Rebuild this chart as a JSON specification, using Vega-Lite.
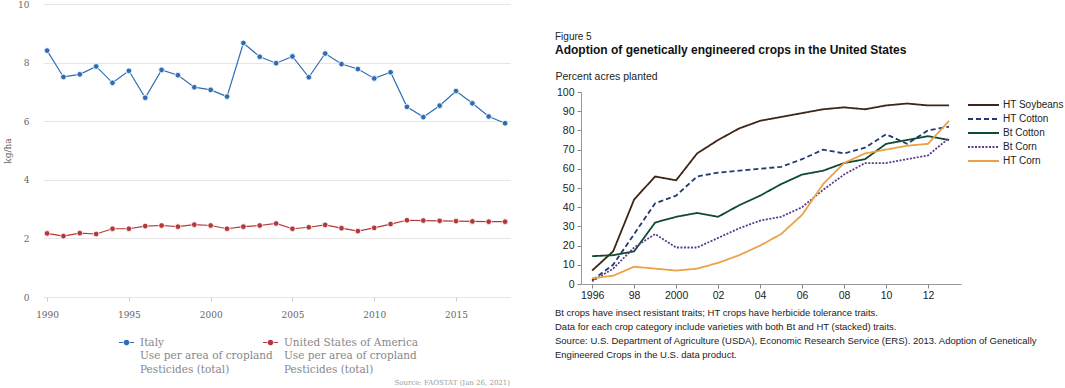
{
  "$schema": "https://vega.github.io/schema/vega-lite/v6.json",
  "padding": {"left": 3, "top": 0, "right": 0, "bottom": 0},
  "config": {"view": {"stroke": null}},
  "spacing": 45,
  "resolve": {"scale": {"color": "independent", "strokeDash": "independent"}, "legend": {"color": "independent", "strokeDash": "independent"}},
  "datasets": {
    "pest": [
      {"year": 1990, "country": "Italy", "value": 8.41},
      {"year": 1991, "country": "Italy", "value": 7.51},
      {"year": 1992, "country": "Italy", "value": 7.60},
      {"year": 1993, "country": "Italy", "value": 7.87},
      {"year": 1994, "country": "Italy", "value": 7.31},
      {"year": 1995, "country": "Italy", "value": 7.72},
      {"year": 1996, "country": "Italy", "value": 6.80},
      {"year": 1997, "country": "Italy", "value": 7.75},
      {"year": 1998, "country": "Italy", "value": 7.57},
      {"year": 1999, "country": "Italy", "value": 7.16},
      {"year": 2000, "country": "Italy", "value": 7.07},
      {"year": 2001, "country": "Italy", "value": 6.84},
      {"year": 2002, "country": "Italy", "value": 8.67},
      {"year": 2003, "country": "Italy", "value": 8.20},
      {"year": 2004, "country": "Italy", "value": 7.98},
      {"year": 2005, "country": "Italy", "value": 8.21},
      {"year": 2006, "country": "Italy", "value": 7.50},
      {"year": 2007, "country": "Italy", "value": 8.31},
      {"year": 2008, "country": "Italy", "value": 7.95},
      {"year": 2009, "country": "Italy", "value": 7.78},
      {"year": 2010, "country": "Italy", "value": 7.46},
      {"year": 2011, "country": "Italy", "value": 7.67},
      {"year": 2012, "country": "Italy", "value": 6.49},
      {"year": 2013, "country": "Italy", "value": 6.14},
      {"year": 2014, "country": "Italy", "value": 6.53},
      {"year": 2015, "country": "Italy", "value": 7.03},
      {"year": 2016, "country": "Italy", "value": 6.61},
      {"year": 2017, "country": "Italy", "value": 6.16},
      {"year": 2018, "country": "Italy", "value": 5.93},
      {"year": 1990, "country": "United States of America", "value": 2.17},
      {"year": 1991, "country": "United States of America", "value": 2.08},
      {"year": 1992, "country": "United States of America", "value": 2.18},
      {"year": 1993, "country": "United States of America", "value": 2.15},
      {"year": 1994, "country": "United States of America", "value": 2.33},
      {"year": 1995, "country": "United States of America", "value": 2.33},
      {"year": 1996, "country": "United States of America", "value": 2.42},
      {"year": 1997, "country": "United States of America", "value": 2.44},
      {"year": 1998, "country": "United States of America", "value": 2.40},
      {"year": 1999, "country": "United States of America", "value": 2.47},
      {"year": 2000, "country": "United States of America", "value": 2.44},
      {"year": 2001, "country": "United States of America", "value": 2.33},
      {"year": 2002, "country": "United States of America", "value": 2.40},
      {"year": 2003, "country": "United States of America", "value": 2.44},
      {"year": 2004, "country": "United States of America", "value": 2.51},
      {"year": 2005, "country": "United States of America", "value": 2.33},
      {"year": 2006, "country": "United States of America", "value": 2.38},
      {"year": 2007, "country": "United States of America", "value": 2.46},
      {"year": 2008, "country": "United States of America", "value": 2.35},
      {"year": 2009, "country": "United States of America", "value": 2.25},
      {"year": 2010, "country": "United States of America", "value": 2.36},
      {"year": 2011, "country": "United States of America", "value": 2.49},
      {"year": 2012, "country": "United States of America", "value": 2.62},
      {"year": 2013, "country": "United States of America", "value": 2.61},
      {"year": 2014, "country": "United States of America", "value": 2.60},
      {"year": 2015, "country": "United States of America", "value": 2.59},
      {"year": 2016, "country": "United States of America", "value": 2.58},
      {"year": 2017, "country": "United States of America", "value": 2.57},
      {"year": 2018, "country": "United States of America", "value": 2.57}
    ],
    "ge": [
      {"year": 1996, "crop": "HT Soybeans", "pct": 7},
      {"year": 1997, "crop": "HT Soybeans", "pct": 17},
      {"year": 1998, "crop": "HT Soybeans", "pct": 44},
      {"year": 1999, "crop": "HT Soybeans", "pct": 56},
      {"year": 2000, "crop": "HT Soybeans", "pct": 54},
      {"year": 2001, "crop": "HT Soybeans", "pct": 68},
      {"year": 2002, "crop": "HT Soybeans", "pct": 75},
      {"year": 2003, "crop": "HT Soybeans", "pct": 81},
      {"year": 2004, "crop": "HT Soybeans", "pct": 85},
      {"year": 2005, "crop": "HT Soybeans", "pct": 87},
      {"year": 2006, "crop": "HT Soybeans", "pct": 89},
      {"year": 2007, "crop": "HT Soybeans", "pct": 91},
      {"year": 2008, "crop": "HT Soybeans", "pct": 92},
      {"year": 2009, "crop": "HT Soybeans", "pct": 91},
      {"year": 2010, "crop": "HT Soybeans", "pct": 93},
      {"year": 2011, "crop": "HT Soybeans", "pct": 94},
      {"year": 2012, "crop": "HT Soybeans", "pct": 93},
      {"year": 2013, "crop": "HT Soybeans", "pct": 93},
      {"year": 1996, "crop": "HT Cotton", "pct": 2},
      {"year": 1997, "crop": "HT Cotton", "pct": 10},
      {"year": 1998, "crop": "HT Cotton", "pct": 26},
      {"year": 1999, "crop": "HT Cotton", "pct": 42},
      {"year": 2000, "crop": "HT Cotton", "pct": 46},
      {"year": 2001, "crop": "HT Cotton", "pct": 56},
      {"year": 2002, "crop": "HT Cotton", "pct": 58},
      {"year": 2003, "crop": "HT Cotton", "pct": 59},
      {"year": 2004, "crop": "HT Cotton", "pct": 60},
      {"year": 2005, "crop": "HT Cotton", "pct": 61},
      {"year": 2006, "crop": "HT Cotton", "pct": 65},
      {"year": 2007, "crop": "HT Cotton", "pct": 70},
      {"year": 2008, "crop": "HT Cotton", "pct": 68},
      {"year": 2009, "crop": "HT Cotton", "pct": 71},
      {"year": 2010, "crop": "HT Cotton", "pct": 78},
      {"year": 2011, "crop": "HT Cotton", "pct": 73},
      {"year": 2012, "crop": "HT Cotton", "pct": 80},
      {"year": 2013, "crop": "HT Cotton", "pct": 82},
      {"year": 1996, "crop": "Bt Cotton", "pct": 14.5},
      {"year": 1997, "crop": "Bt Cotton", "pct": 15},
      {"year": 1998, "crop": "Bt Cotton", "pct": 17},
      {"year": 1999, "crop": "Bt Cotton", "pct": 32},
      {"year": 2000, "crop": "Bt Cotton", "pct": 35},
      {"year": 2001, "crop": "Bt Cotton", "pct": 37},
      {"year": 2002, "crop": "Bt Cotton", "pct": 35},
      {"year": 2003, "crop": "Bt Cotton", "pct": 41},
      {"year": 2004, "crop": "Bt Cotton", "pct": 46},
      {"year": 2005, "crop": "Bt Cotton", "pct": 52},
      {"year": 2006, "crop": "Bt Cotton", "pct": 57},
      {"year": 2007, "crop": "Bt Cotton", "pct": 59},
      {"year": 2008, "crop": "Bt Cotton", "pct": 63},
      {"year": 2009, "crop": "Bt Cotton", "pct": 65},
      {"year": 2010, "crop": "Bt Cotton", "pct": 73},
      {"year": 2011, "crop": "Bt Cotton", "pct": 75},
      {"year": 2012, "crop": "Bt Cotton", "pct": 77},
      {"year": 2013, "crop": "Bt Cotton", "pct": 75},
      {"year": 1996, "crop": "Bt Corn", "pct": 1.4},
      {"year": 1997, "crop": "Bt Corn", "pct": 8},
      {"year": 1998, "crop": "Bt Corn", "pct": 19},
      {"year": 1999, "crop": "Bt Corn", "pct": 26},
      {"year": 2000, "crop": "Bt Corn", "pct": 19},
      {"year": 2001, "crop": "Bt Corn", "pct": 19},
      {"year": 2002, "crop": "Bt Corn", "pct": 24},
      {"year": 2003, "crop": "Bt Corn", "pct": 29},
      {"year": 2004, "crop": "Bt Corn", "pct": 33},
      {"year": 2005, "crop": "Bt Corn", "pct": 35},
      {"year": 2006, "crop": "Bt Corn", "pct": 40},
      {"year": 2007, "crop": "Bt Corn", "pct": 49},
      {"year": 2008, "crop": "Bt Corn", "pct": 57},
      {"year": 2009, "crop": "Bt Corn", "pct": 63},
      {"year": 2010, "crop": "Bt Corn", "pct": 63},
      {"year": 2011, "crop": "Bt Corn", "pct": 65},
      {"year": 2012, "crop": "Bt Corn", "pct": 67},
      {"year": 2013, "crop": "Bt Corn", "pct": 76},
      {"year": 1996, "crop": "HT Corn", "pct": 3},
      {"year": 1997, "crop": "HT Corn", "pct": 4.3},
      {"year": 1998, "crop": "HT Corn", "pct": 9},
      {"year": 1999, "crop": "HT Corn", "pct": 8},
      {"year": 2000, "crop": "HT Corn", "pct": 7},
      {"year": 2001, "crop": "HT Corn", "pct": 8},
      {"year": 2002, "crop": "HT Corn", "pct": 11},
      {"year": 2003, "crop": "HT Corn", "pct": 15},
      {"year": 2004, "crop": "HT Corn", "pct": 20},
      {"year": 2005, "crop": "HT Corn", "pct": 26},
      {"year": 2006, "crop": "HT Corn", "pct": 36},
      {"year": 2007, "crop": "HT Corn", "pct": 52},
      {"year": 2008, "crop": "HT Corn", "pct": 63},
      {"year": 2009, "crop": "HT Corn", "pct": 68},
      {"year": 2010, "crop": "HT Corn", "pct": 70},
      {"year": 2011, "crop": "HT Corn", "pct": 72},
      {"year": 2012, "crop": "HT Corn", "pct": 73},
      {"year": 2013, "crop": "HT Corn", "pct": 85}
    ]
  },
  "hconcat": [
    {
      "width": 467,
      "height": 293,
      "data": {"name": "pest"},
      "title": {"text": "Source: FAOSTAT (Jan 26, 2021)", "orient": "bottom", "anchor": "end", "font": "DejaVu Serif", "fontSize": 7, "fontWeight": "normal", "color": "#999999", "offset": 4},
      "encoding": {
        "x": {
          "field": "year", "type": "quantitative",
          "scale": {"domain": [1989.75, 2018.3], "nice": false, "zero": false},
          "axis": {"values": [1990, 1995, 2000, 2005, 2010, 2015], "format": "d", "grid": false, "domain": false, "ticks": true, "tickColor": "#cccccc", "tickSize": 4, "labelPadding": 9, "labelFont": "DejaVu Serif", "labelFontSize": 9, "labelColor": "#666666", "title": null}
        },
        "y": {
          "field": "value", "type": "quantitative", "title": "kg/ha",
          "scale": {"domain": [0, 10], "nice": false},
          "axis": {"values": [0, 2, 4, 6, 8, 10], "grid": true, "gridColor": "#e6e6e6", "domain": false, "ticks": false, "labelPadding": 14, "labelFont": "DejaVu Serif", "labelFontSize": 9, "labelColor": "#666666", "titleFont": "DejaVu Serif", "titleFontSize": 9, "titleFontWeight": "normal", "titleColor": "#666666", "titlePadding": 5}
        }
      },
      "resolve": {"scale": {"color": "independent"}, "legend": {"color": "independent"}},
      "layer": [
        {
          "transform": [{"filter": "datum.country == 'Italy'"}],
          "mark": {"type": "line", "strokeWidth": 1.2, "point": {"filled": true, "size": 32, "stroke": "white", "strokeWidth": 0.8}},
          "encoding": {
            "color": {
              "field": "country", "type": "nominal",
              "scale": {"domain": ["Italy"], "range": ["#2e6db4"]},
              "legend": {
                "title": null, "orient": "none", "legendX": 75, "legendY": 330,
                "symbolType": "M-1,0L-0.45,0M0.45,0L1,0M0.3,0A0.3,0.3,0,1,1,-0.3,0A0.3,0.3,0,1,1,0.3,0Z",
                "symbolSize": 225, "symbolStrokeWidth": 1.2,
                "labelFont": "DejaVu Serif", "labelFontSize": 10.5, "labelColor": "#888888", "labelLimit": 0, "labelOffset": 5,
                "labelExpr": "[datum.label, 'Use per area of cropland', 'Pesticides (total)']",
                "encode": {"labels": {"update": {"lineHeight": {"value": 13.5}}}}
              }
            }
          }
        },
        {
          "transform": [{"filter": "datum.country == 'United States of America'"}],
          "mark": {"type": "line", "strokeWidth": 1.2, "point": {"filled": true, "size": 32, "stroke": "white", "strokeWidth": 0.8}},
          "encoding": {
            "color": {
              "field": "country", "type": "nominal",
              "scale": {"domain": ["United States of America"], "range": ["#b3373b"]},
              "legend": {
                "title": null, "orient": "none", "legendX": 219, "legendY": 330,
                "symbolType": "M-1,0L-0.45,0M0.45,0L1,0M0.3,0A0.3,0.3,0,1,1,-0.3,0A0.3,0.3,0,1,1,0.3,0Z",
                "symbolSize": 225, "symbolStrokeWidth": 1.2,
                "labelFont": "DejaVu Serif", "labelFontSize": 10.5, "labelColor": "#888888", "labelLimit": 0, "labelOffset": 5,
                "labelExpr": "[datum.label, 'Use per area of cropland', 'Pesticides (total)']",
                "encode": {"labels": {"update": {"lineHeight": {"value": 13.5}}}}
              }
            }
          }
        }
      ]
    },
    {
      "spacing": 0,
      "bounds": "flush",
      "title": {
        "text": ["Bt crops have insect resistant traits; HT crops have herbicide tolerance traits.", "Data for each crop category include varieties with both Bt and HT (stacked) traits."],
        "subtitle": ["Source: U.S. Department of Agriculture (USDA), Economic Research Service (ERS). 2013. Adoption of Genetically", "Engineered Crops in the U.S. data product."],
        "orient": "bottom", "anchor": "start", "frame": "bounds",
        "font": "Liberation Sans", "fontSize": 9.5, "fontWeight": "normal", "color": "#222222", "lineHeight": 14,
        "subtitleFont": "Liberation Sans", "subtitleFontSize": 9.5, "subtitleColor": "#222222", "subtitleLineHeight": 14, "subtitlePadding": 5,
        "offset": 7
      },
      "vconcat": [
        {
          "width": 380,
          "height": 88,
          "data": {"values": []},
          "mark": "rule",
          "encoding": {}
        },
        {
          "width": 380,
          "height": 192,
          "data": {"name": "ge"},
          "title": {
            "text": "Figure 5",
            "subtitle": "Adoption of genetically engineered crops in the United States",
            "anchor": "start", "frame": "bounds",
            "font": "Liberation Sans", "fontSize": 10, "fontWeight": "normal", "color": "#222222",
            "subtitleFont": "Liberation Sans", "subtitleFontSize": 12, "subtitleFontWeight": "bold", "subtitleColor": "#111111", "subtitlePadding": 3,
            "offset": 15
          },
          "mark": {"type": "line", "strokeWidth": 1.8},
          "encoding": {
            "x": {
              "field": "year", "type": "quantitative",
              "scale": {"domain": [1995.47, 2013.57], "nice": false, "zero": false},
              "axis": {"values": [1996, 1998, 2000, 2002, 2004, 2006, 2008, 2010, 2012], "labelExpr": "datum.value == 1996 || datum.value == 2000 ? '' + datum.value : substring('' + datum.value, 2, 4)", "grid": false, "domain": true, "domainColor": "#999999", "tickColor": "#888888", "tickSize": 4, "labelPadding": 2, "labelFont": "Liberation Sans", "labelFontSize": 10.5, "labelColor": "#222222", "title": null}
            },
            "y": {
              "field": "pct", "type": "quantitative",
              "scale": {"domain": [0, 100], "nice": false},
              "axis": {"values": [0, 10, 20, 30, 40, 50, 60, 70, 80, 90, 100], "grid": false, "domain": true, "domainColor": "#999999", "tickColor": "#888888", "tickSize": 4, "labelPadding": 3, "labelFont": "Liberation Sans", "labelFontSize": 10.5, "labelColor": "#222222",
                "title": "Percent acres planted", "titleAngle": 0, "titleAlign": "left", "titleBaseline": "middle", "titleX": -26, "titleY": -16, "titleFont": "Liberation Sans", "titleFontSize": 10.5, "titleFontWeight": "normal", "titleColor": "#222222"}
            },
            "color": {
              "field": "crop", "type": "nominal",
              "scale": {"domain": ["HT Soybeans", "HT Cotton", "Bt Cotton", "Bt Corn", "HT Corn"], "range": ["#3e2515", "#1e3c72", "#0f4a33", "#5a3b8b", "#e9a247"]},
              "legend": {"title": null, "orient": "none", "legendX": 396.5, "legendY": 95, "symbolType": "M-3.1,0H3.1", "symbolSize": 100, "symbolStrokeWidth": 2, "labelFont": "Liberation Sans", "labelFontSize": 10, "labelColor": "#222222", "labelOffset": 13.5, "rowPadding": 3}
            },
            "strokeDash": {
              "field": "crop", "type": "nominal",
              "scale": {"domain": ["HT Soybeans", "HT Cotton", "Bt Cotton", "Bt Corn", "HT Corn"], "range": [[1, 0], [5, 3], [1, 0], [2, 1.5], [1, 0]]},
              "legend": {"title": null, "orient": "none", "legendX": 396.5, "legendY": 95, "symbolType": "M-3.1,0H3.1", "symbolSize": 100, "symbolStrokeWidth": 2, "labelFont": "Liberation Sans", "labelFontSize": 10, "labelColor": "#222222", "labelOffset": 13.5, "rowPadding": 3}
            }
          }
        }
      ]
    }
  ]
}
